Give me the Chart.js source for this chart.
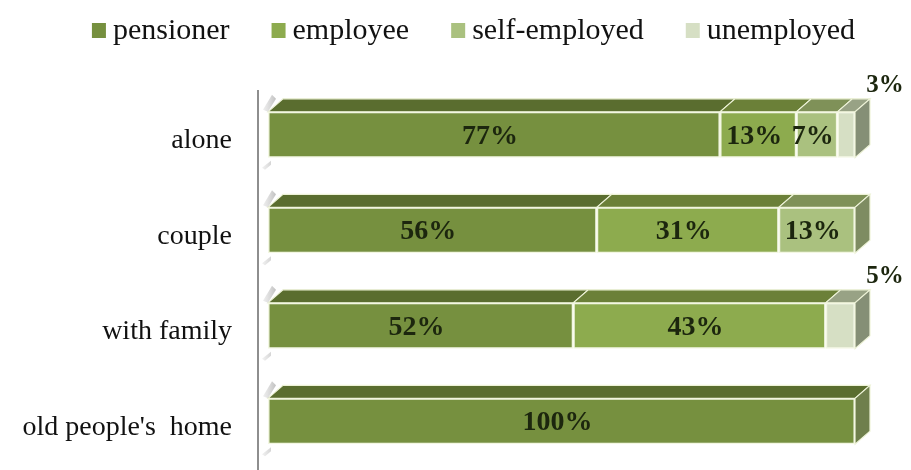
<!DOCTYPE html>
<html>
<head>
<meta charset="utf-8">
<script src="https://cdn.jsdelivr.net/npm/chart.js@4.4.1/dist/chart.umd.min.js"></script>
<style>
  html, body { margin: 0; padding: 0; background: #fff; }
  #wrap { width: 911px; height: 470px; }
</style>
</head>
<body>
<div id="wrap"><canvas id="chart"></canvas></div>
<script>
// categories and series (percent shares)
var categories = ["alone", "couple", "with family", "old people's  home"];
var seriesNames = ["pensioner", "employee", "self-employed", "unemployed"];
var pensioner = [77, 56, 52, 100];
var employee = [13, 31, 43, 0];
var selfEmployed = [7, 13, 0, 0];
var unemployed = [3, 0, 5, 0];

// colours: front face, top face, side face
var frontColors = ["#76903f", "#8dab4e", "#aac17f", "#d6dfc4"];
var topColors = ["#5a6d2f", "#6b8038", "#7f9158", "#98a285"];
var sideColors = ["#6f7f4c", "#74854a", "#7e8c62", "#858f76"];

var DX = 15, DY = 13; // 3d depth

var seriesData = [pensioner, employee, selfEmployed, unemployed];
var datasets = seriesNames.map(function (name, i) {
  return {
    label: name,
    data: seriesData[i],
    backgroundColor: frontColors[i],
    borderColor: "#f3f7e2",
    borderWidth: 1.5,
    borderSkipped: false
  };
});

// 3d top faces, side faces, axis line
var bar3d = {
  id: "bar3d",
  beforeDatasetsDraw: function (chart) {
    var ctx = chart.ctx;
    var area = chart.chartArea;
    ctx.save();
    // axis line
    ctx.strokeStyle = "#8e8e8e";
    ctx.lineWidth = 2;
    ctx.beginPath();
    ctx.moveTo(area.left - 10, area.top + 3);
    ctx.lineTo(area.left - 10, chart.height);
    ctx.stroke();

    var n = categories.length;
    for (var j = 0; j < n; j++) {
      var last = null, lastIdx = -1;
      chart.data.datasets.forEach(function (ds, i) {
        var meta = chart.getDatasetMeta(i);
        var el = meta.data[j];
        if (!ds.data[j]) return;
        var p = el.getProps(["x", "y", "base", "height"], true);
        var top = p.y - p.height / 2;
        ctx.fillStyle = topColors[i];
        ctx.beginPath();
        ctx.moveTo(p.base, top);
        ctx.lineTo(p.base + DX, top - DY);
        ctx.lineTo(p.x + DX, top - DY);
        ctx.lineTo(p.x, top);
        ctx.closePath();
        ctx.fill();
        ctx.strokeStyle = "#eef3d8";
        ctx.lineWidth = 1.2;
        ctx.stroke();
        last = p; lastIdx = i;
      });
      if (last) {
        var t = last.y - last.height / 2, b = last.y + last.height / 2;
        ctx.fillStyle = sideColors[lastIdx];
        ctx.beginPath();
        ctx.moveTo(last.x, t);
        ctx.lineTo(last.x + DX, t - DY);
        ctx.lineTo(last.x + DX, b - DY);
        ctx.lineTo(last.x, b);
        ctx.closePath();
        ctx.fill();
        ctx.strokeStyle = "#eef3d8";
        ctx.stroke();
        // small floor marks at the left
        var l = area.left;
        var g = ctx.createLinearGradient(l - 8, 0, l + 10, 0);
        g.addColorStop(0, "rgba(170,170,170,0.1)");
        g.addColorStop(1, "rgba(125,125,125,0.55)");
        ctx.fillStyle = g;
        ctx.beginPath();
        ctx.moveTo(l - 5, t - 2);
        ctx.lineTo(l + 4, t - DY - 4);
        ctx.lineTo(l + 8, t - DY);
        ctx.lineTo(l, t);
        ctx.closePath();
        ctx.fill();
        ctx.beginPath();
        ctx.moveTo(l - 6, b + 10);
        ctx.lineTo(l + 3, b + 3);
        ctx.lineTo(l + 3, b + 7);
        ctx.lineTo(l - 3, b + 12);
        ctx.closePath();
        ctx.fill();
      }
    }
    ctx.restore();
  }
};

// percent labels
var valueLabels = {
  id: "valueLabels",
  afterDatasetsDraw: function (chart) {
    var ctx = chart.ctx;
    ctx.save();
    ctx.fillStyle = "#1c260e";
    ctx.textAlign = "center";
    ctx.textBaseline = "middle";
    chart.data.datasets.forEach(function (ds, i) {
      var meta = chart.getDatasetMeta(i);
      meta.data.forEach(function (el, j) {
        var v = ds.data[j];
        if (!v) return;
        var p = el.getProps(["x", "y", "base", "height"], true);
        if (v < 6) {
          ctx.font = "bold 25px 'Liberation Serif'";
          ctx.fillText(v + "%", p.x + 30, p.y - p.height / 2 - 26);
        } else {
          ctx.font = "bold 28px 'Liberation Serif'";
          ctx.fillText(v + "%", (p.x + p.base) / 2 - 4, p.y + 2);
        }
      });
    });
    ctx.restore();
  }
};

// legend row at the top
var topLegend = {
  id: "topLegend",
  afterDraw: function (chart) {
    var ctx = chart.ctx;
    ctx.save();
    ctx.font = "30px 'Liberation Serif'";
    var boxW = 14, boxH = 15, gap = 7, itemGap = 42;
    var widths = seriesNames.map(function (s) { return ctx.measureText(s).width; });
    var total = 0;
    widths.forEach(function (w) { total += boxW + gap + w; });
    total += itemGap * (seriesNames.length - 1);
    var x = chart.width / 2 + 18 - total / 2;
    var base = 39;
    ctx.textBaseline = "alphabetic";
    ctx.textAlign = "left";
    seriesNames.forEach(function (s, i) {
      ctx.fillStyle = frontColors[i];
      ctx.fillRect(x, base - boxH - 1, boxW, boxH);
      ctx.fillStyle = "#111";
      ctx.fillText(s, x + boxW + gap, base);
      x += boxW + gap + widths[i] + itemGap;
    });
    ctx.restore();
  }
};

var ctx = document.getElementById("chart");
var myChart = new Chart(ctx, {
  type: "bar",
  data: { labels: categories, datasets: datasets },
  options: {
    indexAxis: "y",
    responsive: true,
    maintainAspectRatio: false,
    animation: false,
    layout: { padding: { top: 87, right: 56, bottom: 1, left: 0 } },
    plugins: {
      legend: { display: false },
      tooltip: { enabled: false }
    },
    scales: {
      x: { stacked: true, min: 0, max: 100, display: false },
      y: {
        stacked: true,
        grid: { display: false, drawTicks: false },
        border: { display: false },
        ticks: {
          color: "#111",
          padding: 36,
          labelOffset: 6,
          font: { family: "Liberation Serif", size: 28 }
        },
        afterFit: function (scale) {
          scale.width = 268;
          scale.paddingTop = 0;
          scale.paddingBottom = 0;
        }
      }
    },
    datasets: { bar: { barPercentage: 0.48, categoryPercentage: 1 } }
  },
  plugins: [bar3d, valueLabels, topLegend]
});
</script>
</body>
</html>
